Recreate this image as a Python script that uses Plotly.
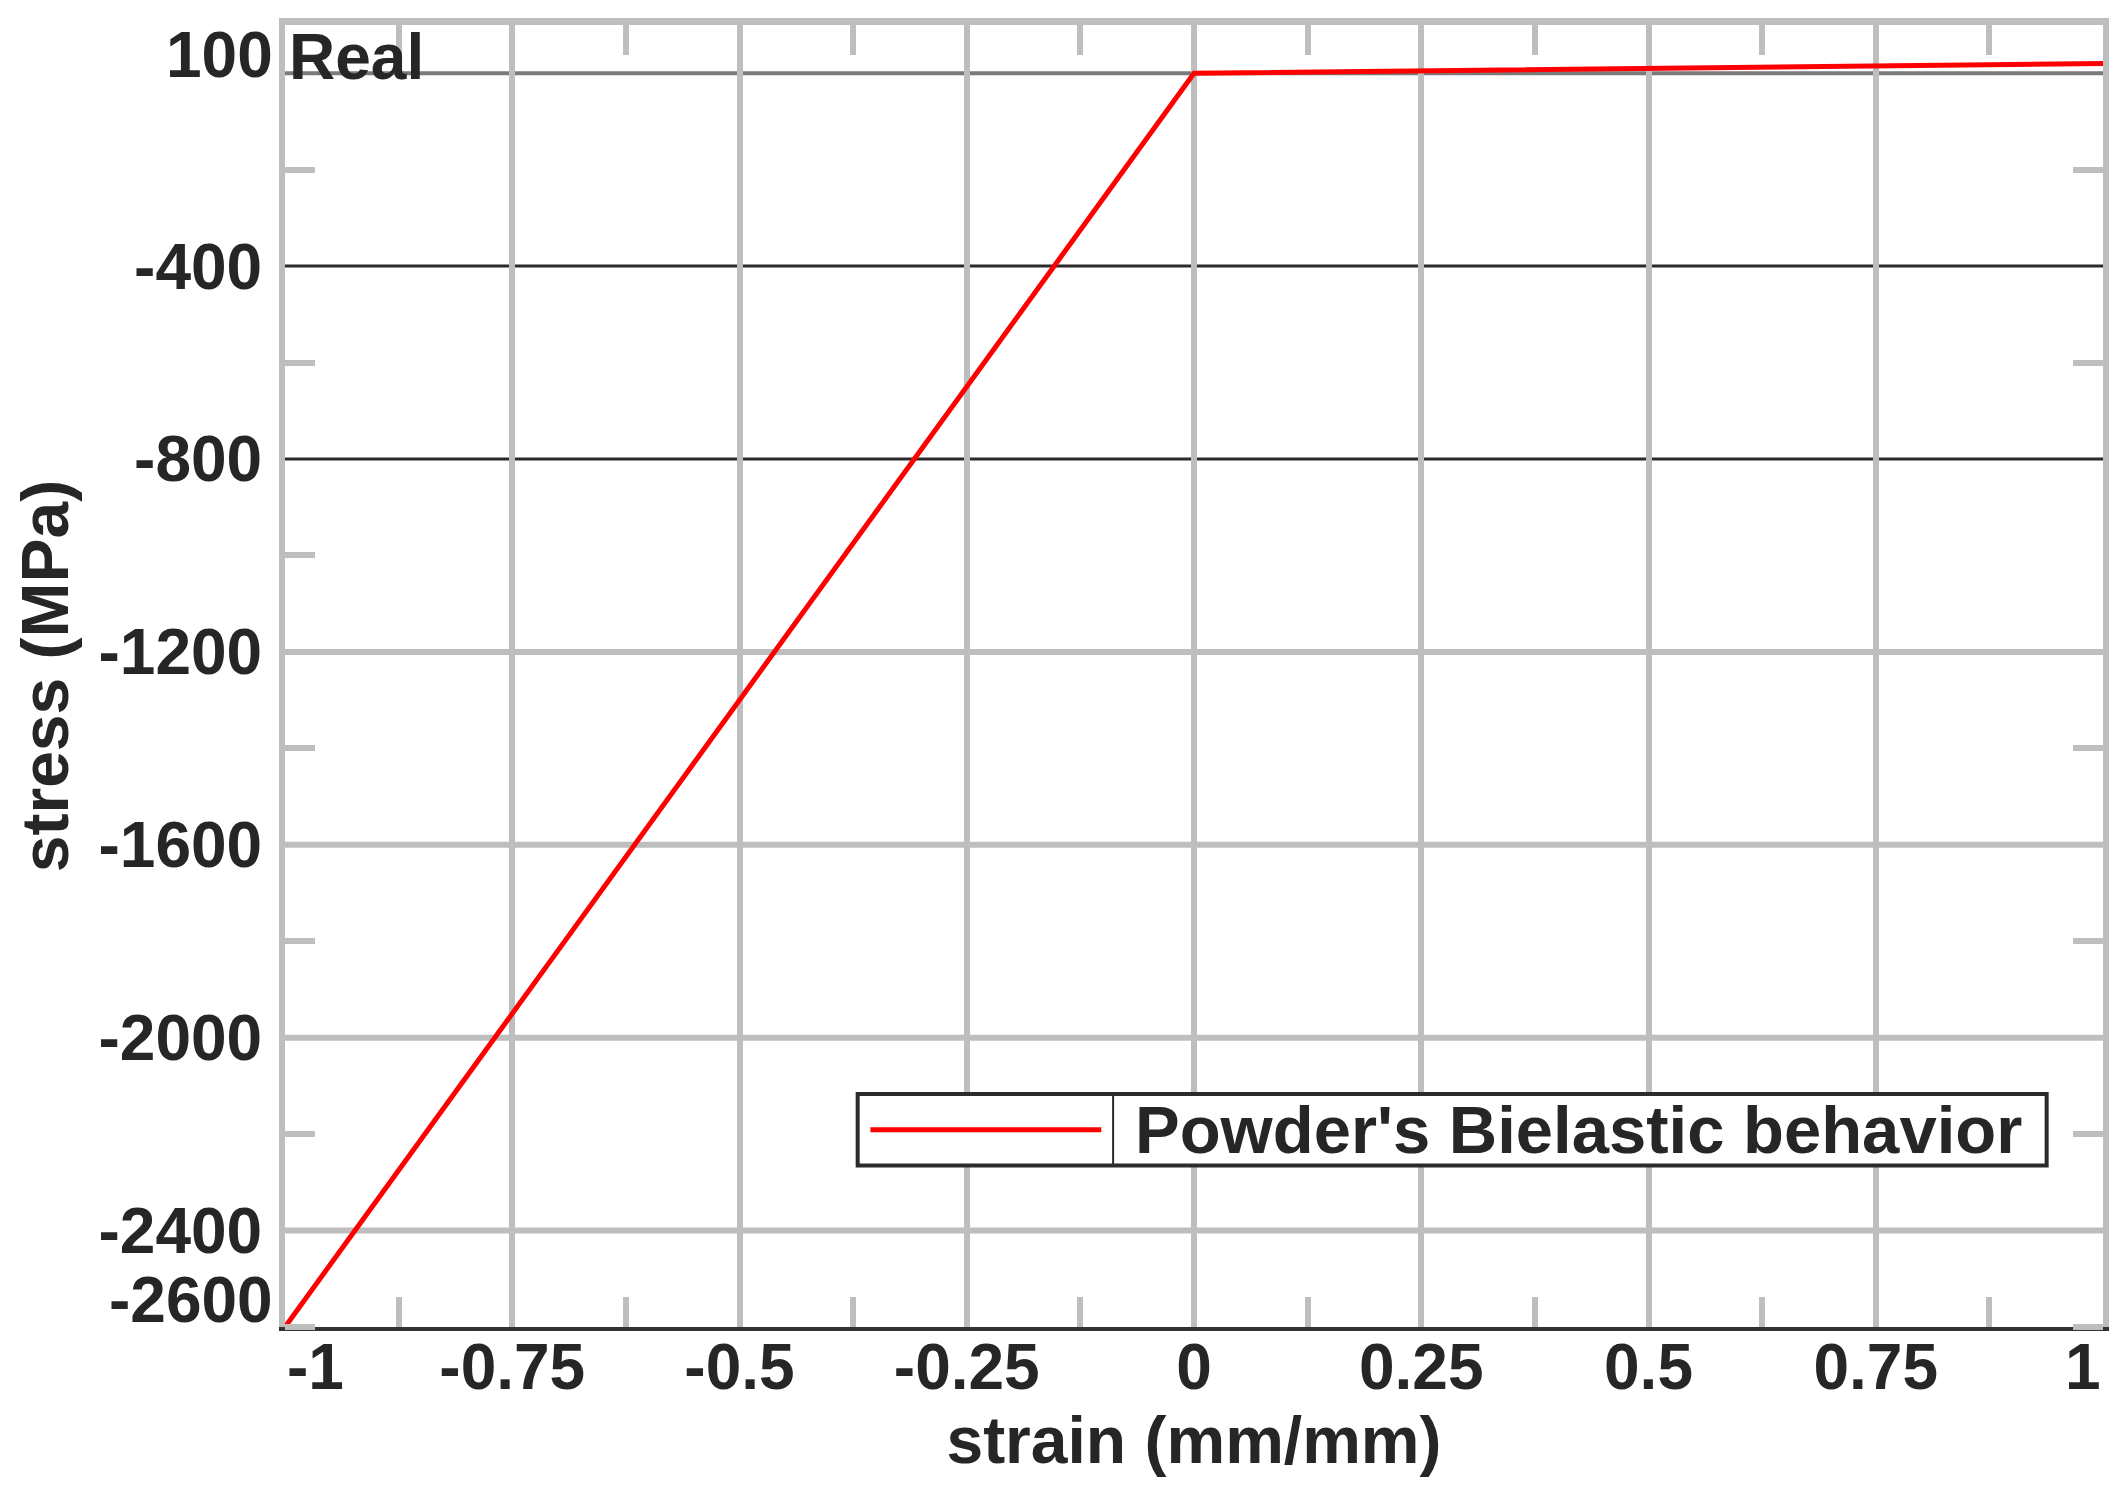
import plotly.graph_objects as go

# data
strain = [-1.0, 0.0, 1.0]
stress = [-2600, 0, 20]

x_ticks = [-1, -0.75, -0.5, -0.25, 0, 0.25, 0.5, 0.75, 1]
x_labels = ["-1", "-0.75", "-0.5", "-0.25", "0", "0.25", "0.5", "0.75", "1"]
y_ticks = [100, -400, -800, -1200, -1600, -2000, -2400, -2600]
y_labels = ["100", "-400", "-800", "-1200", "-1600", "-2000", "-2400", "-2600"]
dark_grid = [0, -400, -800]

series_name = "Powder's Bielastic behavior"
corner_label = "Real"

FONT = "Liberation Sans, Arial, sans-serif"
TXT = "#262626"
GRID = "#bebebe"

fig = go.Figure()

fig.add_trace(
    go.Scatter(
        x=strain,
        y=stress,
        mode="lines",
        line=dict(color="#ff0000", width=5),
        name=series_name,
        showlegend=False,
        hoverinfo="skip",
    )
)
# helper trace so the mirrored top/right axes get drawn
fig.add_trace(
    go.Scatter(
        x=strain[:1],
        y=stress[:1],
        xaxis="x2",
        yaxis="y2",
        mode="markers",
        marker=dict(opacity=0),
        showlegend=False,
        hoverinfo="skip",
    )
)

# horizontal grid: light gray, a few of them dark as in the original
for v in sorted(set(y_ticks[1:-1] + dark_grid), reverse=True):
    if v == 0:
        line = dict(color="#7a7a7a", width=4)
    elif v in dark_grid:
        line = dict(color="#2a2a2a", width=3)
    else:
        line = dict(color=GRID, width=6)
    fig.add_hline(y=v, line=line, layer="below")

minor_ticks = dict(ticks="inside", ticklen=30, tickwidth=6, tickcolor=GRID, showgrid=False)

# inner tick labels via the axis, end labels shifted inside like the original
x_text = [""] + x_labels[1:-1] + [""]
y_text = [""] + y_labels[1:-1] + [""]

fig.update_layout(
    width=2128,
    height=1492,
    margin=dict(l=277, r=33, t=17, b=173),
    paper_bgcolor="white",
    plot_bgcolor="white",
    showlegend=False,
    font=dict(family=FONT, size=64, color=TXT, weight="bold"),
    xaxis=dict(
        range=[-1, 1],
        tickvals=x_ticks,
        ticktext=x_text,
        ticks="",
        showgrid=True,
        gridcolor=GRID,
        gridwidth=6,
        zeroline=False,
        showline=True,
        linecolor="#333333",
        linewidth=4,
        automargin=False,
        ticklabelstandoff=-19,
        minor=dict(tick0=-0.875, dtick=0.25, **minor_ticks),
        title=dict(text="strain (mm/mm)", font=dict(size=66), standoff=8),
        tickfont=dict(size=64),
    ),
    yaxis=dict(
        range=[-2600, 100],
        tickvals=y_ticks,
        ticktext=y_text,
        ticks="",
        showgrid=False,
        zeroline=False,
        showline=True,
        linecolor=GRID,
        linewidth=6,
        automargin=False,
        ticklabelstandoff=4,
        minor=dict(tick0=-200, dtick=400, **minor_ticks),
        title=dict(text="stress (MPa)", font=dict(size=66), standoff=12),
        tickfont=dict(size=64),
    ),
    xaxis2=dict(
        overlaying="x",
        matches="x",
        side="top",
        showticklabels=False,
        ticks="",
        showgrid=False,
        zeroline=False,
        showline=True,
        linecolor=GRID,
        linewidth=7,
        automargin=False,
        minor=dict(tick0=-0.875, dtick=0.25, **minor_ticks),
    ),
    yaxis2=dict(
        overlaying="y",
        matches="y",
        side="right",
        showticklabels=False,
        ticks="",
        showgrid=False,
        zeroline=False,
        showline=True,
        linecolor=GRID,
        linewidth=6,
        automargin=False,
        minor=dict(tick0=-200, dtick=400, **minor_ticks),
    ),
)

# end tick labels
fig.add_annotation(x=x_ticks[0], y=0, xref="x", yref="paper", text=x_labels[0],
                   xanchor="left", yanchor="top", yshift=-2, showarrow=False,
                   font=dict(size=64))
fig.add_annotation(x=x_ticks[-1], y=0, xref="x", yref="paper", text=x_labels[-1],
                   xanchor="right", yanchor="top", yshift=-2, showarrow=False,
                   font=dict(size=64))
fig.add_annotation(x=0, y=y_ticks[0], xref="paper", yref="y", text=y_labels[0],
                   xanchor="right", yanchor="top", xshift=-10, yshift=8, showarrow=False,
                   font=dict(size=64))
fig.add_annotation(x=0, y=y_ticks[-1], xref="paper", yref="y", text=y_labels[-1],
                   xanchor="right", yanchor="bottom", xshift=-10, yshift=-11, showarrow=False,
                   font=dict(size=64))

# corner label
fig.add_annotation(x=0, y=1, xref="paper", yref="paper", text=corner_label,
                   xanchor="left", yanchor="top", xshift=2, yshift=6, showarrow=False,
                   font=dict(size=64))

# legend box drawn by hand (sample line | label)
lx0, lx1, ly0, ly1 = 0.315, 0.969, 0.124, 0.179
ldiv = 0.4555
lyc = (ly0 + ly1) / 2
fig.add_shape(type="rect", xref="paper", yref="paper", x0=lx0, x1=lx1, y0=ly0, y1=ly1,
              line=dict(color="#2b2b2b", width=4), fillcolor="white", layer="above")
fig.add_shape(type="line", xref="paper", yref="paper", x0=ldiv, x1=ldiv, y0=ly0, y1=ly1,
              line=dict(color="#2b2b2b", width=2), layer="above")
fig.add_shape(type="line", xref="paper", yref="paper", x0=0.322, x1=0.449, y0=lyc, y1=lyc,
              line=dict(color="#ff0000", width=5), layer="above")
fig.add_annotation(x=0.4665, y=lyc, xref="paper", yref="paper", text=series_name,
                   xanchor="left", yanchor="middle", showarrow=False,
                   font=dict(size=67))

fig.write_html("out.html")
